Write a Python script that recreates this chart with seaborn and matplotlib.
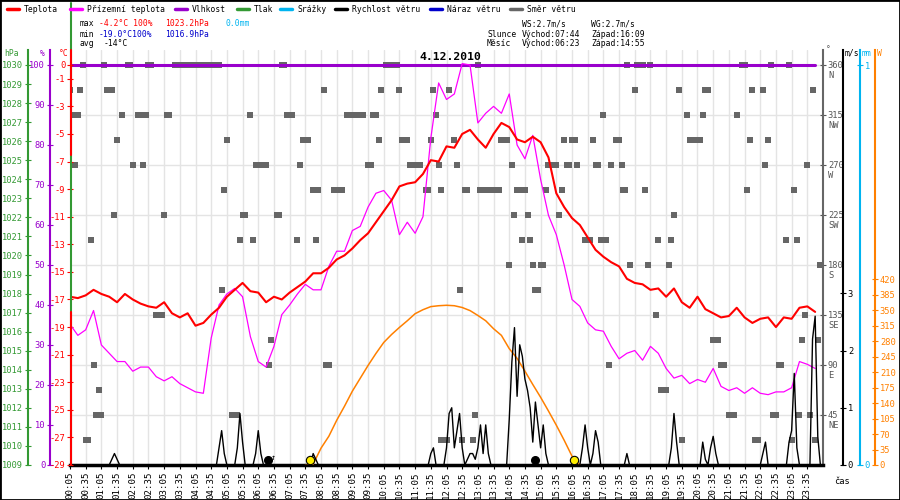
import pandas as pd
import matplotlib
matplotlib.use("Agg")
import matplotlib.pyplot as plt
import matplotlib.dates as mdates
from matplotlib.lines import Line2D
from matplotlib.patches import Rectangle
import seaborn as sns

# ---------------------------------------------------------------- data
DAY = "2010-12-04"

# 15-minute readings starting 00:05
temperature = [
    -16.8, -16.9, -16.7, -16.3, -16.6, -16.8, -17.2, -16.6, -17.0, -17.3,
    -17.5, -17.6, -17.2, -18.0, -18.3, -18.0, -18.9, -18.7, -18.1, -17.6,
    -16.8, -16.3, -15.8, -16.4, -16.5, -17.2, -16.8, -17.0, -16.5, -16.1,
    -15.7, -15.1, -15.1, -14.7, -14.1, -13.8, -13.3, -12.7, -12.2, -11.4,
    -10.6, -9.8, -8.8, -8.6, -8.5, -7.9, -6.9, -7.0,
    -5.9, -6.0, -5.0, -4.7, -5.4, -6.0, -5.0, -4.2, -4.5, -5.4,
    -5.6, -5.2, -5.6, -6.7, -9.3, -10.3, -11.1, -11.6, -12.5, -13.4,
    -13.9, -14.3, -14.6, -15.5, -15.8, -15.9, -16.3, -16.2, -16.8, -16.2,
    -17.2, -17.6, -16.8, -17.7, -18.0, -18.3, -18.2, -17.6, -18.3, -18.7,
    -18.4, -18.3, -19.0, -18.3, -18.4, -17.6, -17.5, -17.9,
]
ground_temperature = [
    -18.8, -19.6, -19.2, -17.8, -20.3, -20.9, -21.5, -21.5, -22.2, -21.9,
    -21.9, -22.6, -22.9, -22.6, -23.1, -23.4, -23.7, -23.8, -19.8, -17.4,
    -16.6, -16.2, -16.8, -19.7, -21.5, -21.9, -20.4, -18.1, -17.4, -16.6,
    -15.9, -16.3, -16.3, -14.6, -13.5, -13.5, -12.0, -11.7, -10.3, -9.3,
    -9.1, -9.8, -12.3, -11.4, -12.2, -11.0, -5.3, -1.3,
    -2.5, -2.1, 0.1, 0.0, -4.2, -3.5, -3.0, -3.5, -2.1, -5.8,
    -6.8, -5.1, -8.3, -10.9, -12.3, -14.5, -17.0, -17.5, -18.7, -19.2,
    -19.3, -20.4, -21.3, -20.9, -20.7, -21.4, -20.4, -20.9, -22.0, -22.7,
    -22.5, -23.1, -22.8, -23.0, -22.0, -23.3, -23.6, -23.4, -23.8, -23.4,
    -23.8, -23.9, -23.7, -23.7, -23.4, -21.5, -21.7, -22.0,
]
humidity = [
    100, 100, 100, 100, 100, 100, 100, 100, 100, 100, 100, 100,
    100, 100, 100, 100, 100, 100, 100, 100, 100, 100, 100, 100,
    100, 100, 100, 100, 100, 100, 100, 100, 100, 100, 100, 100,
    100, 100, 100, 100, 100, 100, 100, 100, 100, 100, 100, 100,
    100, 100, 100, 100, 100, 100, 100, 100, 100, 100, 100, 100,
    100, 100, 100, 100, 100, 100, 100, 100, 100, 100, 100, 100,
    100, 100, 100, 100, 100, 100, 100, 100, 100, 100, 100, 100,
    100, 100, 100, 100, 100, 100, 100, 100, 100, 100, 100, 100,
]
# solar radiation (W), 15-minute readings starting 07:35
solar_start = "07:35"
solar_radiation = [
    0, 2, 38, 65, 101, 133, 167, 196, 225, 252,
    277, 295, 311, 326, 342, 351, 358, 360, 361, 360,
    356, 349, 338, 326, 308, 293, 263, 241, 212, 182,
    153, 122, 90, 56, 20, 0,
]
# wind speed (m/s), 5-minute readings starting 00:05 (one row = 2 hours)
wind_speed = [
    0, 0, 0, 0, 0, 0, 0, 0, 0, 0, 0, 0, 0, 0, 0, 0, 0.1, 0.2, 0.1, 0, 0, 0, 0, 0,
    0, 0, 0, 0, 0, 0, 0, 0, 0, 0, 0, 0, 0, 0, 0, 0, 0, 0, 0, 0, 0, 0, 0, 0,
    0, 0, 0, 0, 0, 0, 0, 0, 0, 0.3, 0.6, 0.2, 0, 0, 0, 0, 0.3, 0.9, 0.4, 0, 0, 0, 0, 0.2,
    0.6, 0.2, 0, 0, 0, 0, 0, 0, 0, 0, 0, 0, 0, 0, 0, 0, 0, 0, 0, 0, 0, 0.2, 0.1, 0,
    0, 0, 0, 0, 0, 0, 0, 0, 0, 0, 0, 0, 0, 0, 0, 0, 0, 0, 0, 0, 0, 0, 0, 0,
    0, 0, 0, 0, 0, 0, 0, 0, 0, 0, 0, 0, 0, 0, 0, 0, 0, 0, 0.2, 0.3, 0, 0, 0, 0,
    0.3, 0.9, 1.0, 0.3, 0.6, 0.9, 0.3, 0, 0.1, 0.2, 0.2, 0.1, 0.3, 0.7, 0.2, 0.7, 0.2, 0, 0, 0, 0, 0, 0, 0,
    0.8, 1.8, 2.4, 1.2, 2.1, 1.9, 1.5, 1.3, 1.0, 0.4, 1.1, 0.7, 0.3, 0.7, 0.2, 0, 0, 0, 0, 0, 0, 0, 0, 0,
    0, 0, 0, 0, 0.3, 0.7, 0.3, 0, 0.2, 0.6, 0.4, 0, 0, 0, 0, 0, 0, 0, 0, 0, 0, 0.2, 0, 0,
    0, 0, 0, 0, 0, 0, 0, 0, 0, 0, 0, 0, 0, 0, 0.3, 0.9, 0.4, 0, 0, 0, 0, 0, 0, 0,
    0, 0, 0.4, 0.1, 0, 0.3, 0.5, 0.2, 0, 0, 0, 0, 0, 0, 0, 0, 0, 0, 0, 0, 0, 0, 0, 0,
    0, 0.2, 0.4, 0, 0, 0, 0, 0, 0, 0, 0, 0.4, 0.6, 1.6, 0.3, 0, 0, 0, 0, 0, 2.2, 2.6, 0.5, 0,
]

# wind direction observations: minutes after midnight per compass direction
wd_360 = [30, 70, 115, 120, 155, 160, 205, 210, 215, 220, 225, 230, 235, 240, 245,
          250, 255, 260, 265, 270, 275, 280, 285, 290, 410, 415, 610, 615, 620, 625,
          630, 785, 1070, 1090, 1095, 1100, 1115, 1290, 1295, 1345, 1380]
wd_337 = [5, 25, 75, 80, 85, 490, 600, 635, 700, 730, 1085, 1170, 1220, 1225,
          1310, 1330, 1425]
wd_315 = [10, 20, 105, 135, 140, 150, 190, 195, 350, 420, 425, 430, 535, 540, 545,
          550, 555, 560, 565, 585, 590, 705, 1025, 1185, 1215, 1280]
wd_292 = [95, 305, 450, 455, 460, 595, 640, 645, 650, 695, 740, 830, 835, 840, 950,
          965, 970, 1005, 1050, 1055, 1190, 1195, 1200, 1205, 1210, 1305, 1340]
wd_270 = [15, 125, 145, 360, 365, 370, 375, 380, 445, 575, 580, 655, 660, 665, 670,
          675, 710, 745, 850, 920, 925, 930, 935, 955, 960, 975, 1010, 1015, 1040,
          1060, 1335, 1415]
wd_247 = [300, 470, 475, 480, 510, 515, 520, 525, 685, 690, 715, 760, 765, 790, 795,
          800, 805, 810, 815, 820, 825, 860, 865, 875, 915, 945, 1062, 1067, 1105,
          1300, 1390]
wd_225 = [90, 185, 335, 340, 400, 405, 855, 880, 940, 1160]
wd_202 = [45, 330, 355, 440, 475, 870, 885, 990, 995, 1000, 1020, 1030, 1130, 1155,
          1375, 1395]
wd_180 = [845, 890, 905, 910, 1075, 1110, 1150, 1440]
wd_157 = [295, 750, 895, 900]
wd_135 = [170, 175, 180, 1125, 1410]
wd_112 = [390, 1235, 1240, 1245, 1405, 1435]
wd_90 = [50, 385, 495, 500, 1035, 1250, 1255, 1360, 1365]
wd_67 = [60, 1135, 1140, 1145]
wd_45 = [55, 65, 315, 320, 325, 780, 1265, 1270, 1275, 1350, 1355, 1400, 1420]
wd_22 = [35, 40, 715, 720, 725, 755, 775, 1175, 1315, 1320, 1385, 1430]

sunrise, sunset = "07:44", "16:09"
moonrise, moonset = "06:23", "14:55"

legend_labels = ["Teplota", "Přízemní teplota", "Vlhkost", "Tlak", "Srážky",
                 "Rychlost větru", "Náraz větru", "Směr větru"]
temp_ticks = [0, -1, -3, -5, -7, -9, -11, -13, -15, -17, -19, -21, -23, -25, -27, -29]
hum_ticks = [0, 10, 20, 30, 40, 50, 60, 70, 80, 90, 100]
hpa_ticks = list(range(1009, 1031))
dir_ticks = [45, 90, 135, 180, 225, 270, 315, 360]
dir_names = ["NE", "E", "SE", "S", "SW", "W", "NW", "N"]
ws_ticks = [0, 1, 2, 3]
mm_ticks = [0, 1]
w_ticks = [0, 35, 70, 105, 140, 175, 210, 245, 280, 315, 350, 385, 420]

# ---------------------------------------------------------------- frames
t15 = pd.date_range(f"{DAY} 00:05", periods=len(temperature), freq="15min")
df15 = pd.DataFrame({"time": t15, "temp": temperature,
                     "ground": ground_temperature, "hum": humidity})
df_sun = pd.DataFrame({"time": pd.date_range(f"{DAY} {solar_start}",
                                             periods=len(solar_radiation), freq="15min"),
                       "W": solar_radiation})
df_ws = pd.DataFrame({"time": pd.date_range(f"{DAY} 00:05", periods=len(wind_speed),
                                            freq="5min"),
                      "ws": wind_speed})
dir_groups = [(360, wd_360), (337.5, wd_337), (315, wd_315), (292.5, wd_292),
              (270, wd_270), (247.5, wd_247), (225, wd_225), (202.5, wd_202),
              (180, wd_180), (157.5, wd_157), (135, wd_135), (112.5, wd_112),
              (90, wd_90), (67.5, wd_67), (45, wd_45), (22.5, wd_22)]
rows = []
for deg, mins in dir_groups:
    for m in mins:
        rows.append({"time": pd.Timestamp(DAY) + pd.Timedelta(minutes=m), "deg": deg})
df_dir = pd.DataFrame(rows)

def ts(hhmm):
    return pd.Timestamp(f"{DAY} {hhmm}")

# ---------------------------------------------------------------- style
sns.set_theme(style="white")
plt.rcParams["font.family"] = ["DejaVu Sans Mono", "DejaVu Sans"]
plt.rcParams["axes.unicode_minus"] = False
FS = 5.8
FSY = 6.3
FSX = 6.6

RED, MAG, PUR, GRN = "#ff0000", "#ff00ff", "#9900cc", "#339933"
CYN, BLK, BLU, GRY, ORG = "#00b4f0", "#000000", "#0000cc", "#666666", "#ff8000"

W_PX, H_PX = 900, 500
L, R, T, B = 70, 823, 50, 465
def fx(px):
    return px / W_PX
def fy(py):
    return 1 - py / H_PX

fig = plt.figure(figsize=(9, 5), dpi=100)
fig.patch.set_facecolor("white")
rect = [fx(L), fy(B), fx(R) - fx(L), fy(T) - fy(B)]
plot_w = R - L

x0, x1 = ts("00:05"), ts("00:05") + pd.Timedelta(hours=24)

def new_axes(bg=False):
    a = fig.add_axes(rect)
    a.set_xlim(x0, x1)
    if not bg:
        a.patch.set_visible(False)
        a.tick_params(axis="x", bottom=False, labelbottom=False)
    for s in a.spines.values():
        s.set_visible(False)
    a.set_xlabel("")
    a.set_ylabel("")
    return a

def tidy(a):
    a.set_xlabel("")
    a.set_ylabel("")
    a.set_xlim(x0, x1)

# background axes: grid, wind direction, time axis
ax_dir = new_axes(bg=True)
ax_dir.set_facecolor("white")
ax_dir.set_ylim(0, 360 + 15 * 360 / 400)
ax_dir.set_yticks(dir_ticks)
ax_dir.yaxis.tick_right()
ax_dir.set_xticks(pd.date_range(f"{DAY} 00:05", periods=48, freq="30min"))
ax_dir.xaxis.set_major_formatter(mdates.DateFormatter("%H:%M"))
ax_dir.grid(True, color="#e4e4e4", linewidth=1)
ax_dir.set_axisbelow(True)
ax_dir.spines["right"].set_visible(True)
ax_dir.spines["right"].set_color(GRY)
ax_dir.spines["right"].set_linewidth(1.5)
ax_dir.spines["bottom"].set_visible(True)
ax_dir.spines["bottom"].set_color(BLK)
ax_dir.spines["bottom"].set_linewidth(2.5)
ax_dir.spines["bottom"].set_zorder(5)
ax_dir.tick_params(axis="x", bottom=True, direction="out", length=3, width=0.8,
                   labelsize=FSX, labelrotation=90, pad=2, colors=BLK)
ax_dir.tick_params(axis="y", right=True, left=False, direction="inout", length=5,
                   width=0.8, labelsize=FSY, pad=1, colors="#555555")
sns.scatterplot(data=df_dir, x="time", y="deg", ax=ax_dir, marker="s", s=13,
                color=GRY, linewidth=0, legend=False)
for deg, name in zip(dir_ticks, dir_names):
    ax_dir.annotate(name, xy=(1, deg), xycoords=("axes fraction", "data"),
                    xytext=(5, -10), textcoords="offset pixels",
                    ha="left", va="center", fontsize=FSY, color="#555555")
tidy(ax_dir)

# pressure axis (no plotted data)
ax_hpa = new_axes()
ax_hpa.set_ylim(1009, 1030 + 15 / (400 / 21))
ax_hpa.spines["left"].set_visible(True)
ax_hpa.spines["left"].set_position(("axes", (28 - L) / plot_w))
ax_hpa.spines["left"].set_color(GRN)
ax_hpa.spines["left"].set_linewidth(1.5)
ax_hpa.set_yticks(hpa_ticks)
ax_hpa.tick_params(axis="y", left=True, direction="inout", length=5, width=0.8,
                   labelsize=FSY, pad=1, colors=GRN)

# humidity axis
ax_hum = new_axes()
ax_hum.set_ylim(0, 100 + 15 / 4)
ax_hum.spines["left"].set_visible(True)
ax_hum.spines["left"].set_position(("axes", (50 - L) / plot_w))
ax_hum.spines["left"].set_color(PUR)
ax_hum.spines["left"].set_linewidth(1.5)
ax_hum.set_yticks(hum_ticks)
ax_hum.tick_params(axis="y", left=True, direction="inout", length=5, width=0.8,
                   labelsize=FSY, pad=1, colors=PUR)

# temperature axis
ax = new_axes()
ax.set_ylim(-29, 15 / (400 / 29))
ax.set_yticks(temp_ticks)
ax.tick_params(axis="y", left=True, direction="inout", length=5, width=0.8,
               labelsize=FSY, pad=1, colors=RED)
sns.lineplot(data=df15, x="time", y="ground", ax=ax, color=MAG, linewidth=0.9,
             estimator=None, legend=False)
sns.lineplot(data=df15, x="time", y="temp", ax=ax, color=RED, linewidth=1.5,
             estimator=None, legend=False)
tidy(ax)

sns.lineplot(data=df15, x="time", y="hum", ax=ax_hum, color=PUR, linewidth=2.2,
             estimator=None, legend=False)
tidy(ax_hum)

# solar radiation axis
ax_w = new_axes()
ax_w.set_ylim(0, 938)
ax_w.spines["right"].set_visible(True)
ax_w.spines["right"].set_position(("axes", (875 - L) / plot_w))
ax_w.spines["right"].set_color(ORG)
ax_w.spines["right"].set_linewidth(1.5)
ax_w.yaxis.tick_right()
ax_w.set_yticks(w_ticks)
ax_w.tick_params(axis="y", right=True, left=False, direction="inout", length=5,
                 width=0.8, labelsize=FSY, pad=1, colors=ORG)
sns.lineplot(data=df_sun, x="time", y="W", ax=ax_w, color=ORG, linewidth=1.1,
             estimator=None, legend=False)
tidy(ax_w)

# precipitation axis (scale only)
ax_mm = new_axes()
ax_mm.set_ylim(0, 1 + 15 / 400)
ax_mm.spines["right"].set_visible(True)
ax_mm.spines["right"].set_position(("axes", (860 - L) / plot_w))
ax_mm.spines["right"].set_color(CYN)
ax_mm.spines["right"].set_linewidth(1.5)
ax_mm.yaxis.tick_right()
ax_mm.set_yticks(mm_ticks)
ax_mm.tick_params(axis="y", right=True, left=False, direction="inout", length=5,
                  width=0.8, labelsize=FSY, pad=1, colors=CYN)

# wind speed axis
ax_ws = new_axes()
ax_ws.set_ylim(0, 7.25)
ax_ws.spines["right"].set_visible(True)
ax_ws.spines["right"].set_position(("axes", (843 - L) / plot_w))
ax_ws.spines["right"].set_color(BLK)
ax_ws.spines["right"].set_linewidth(1.5)
ax_ws.yaxis.tick_right()
ax_ws.set_yticks(ws_ticks)
ax_ws.tick_params(axis="y", right=True, left=False, direction="inout", length=5,
                  width=0.8, labelsize=FSY, pad=1, colors=BLK)
sns.lineplot(data=df_ws, x="time", y="ws", ax=ax_ws, color=BLK, linewidth=1.0,
             estimator=None, legend=False)
ax_ws.plot([ts(sunrise), ts(sunset)], [0.09, 0.09], linestyle="none", marker="o",
           markersize=6, markerfacecolor="#ffee00", markeredgecolor=BLK,
           markeredgewidth=0.8, clip_on=False, zorder=6)
ax_ws.plot([ts(moonrise), ts(moonset)], [0.09, 0.09], linestyle="none", marker="o",
           markersize=5.5, markerfacecolor=BLK, markeredgecolor=BLK, clip_on=False,
           zorder=6)
ax_ws.annotate("↑", xy=(ts(moonrise), 0.09), xytext=(6, 2), textcoords="offset pixels",
               ha="center", va="center", fontsize=6, color=BLK)
tidy(ax_ws)

# ---------------------------------------------------------------- decorations
# left axis line colours at the plot edge
fig.add_artist(Line2D([fx(70.5), fx(70.5)], [fy(3), fy(B)], transform=fig.transFigure,
                      color=GRN, linewidth=1.5))
for a0, a1 in [(T, 155), (312, B)]:
    fig.add_artist(Line2D([fx(70.5), fx(70.5)], [fy(a0), fy(a1)],
                          transform=fig.transFigure, color=RED, linewidth=1.5))

# legend row
legend_colors = [RED, MAG, PUR, GRN, CYN, BLK, BLU, GRY]
legend_x = [7, 70, 175, 237, 280, 335, 430, 510]
for lab, col, xx in zip(legend_labels, legend_colors, legend_x):
    fig.add_artist(Line2D([fx(xx), fx(xx + 12)], [fy(9), fy(9)],
                          transform=fig.transFigure, color=col, linewidth=2.5))
    fig.text(fx(xx + 17), fy(9), lab, fontsize=FS, color=BLK, ha="left", va="center")

# statistics block
def put(x, y, s, c=BLK, size=FS):
    fig.text(fx(x), fy(y), s, fontsize=size, color=c, ha="left", va="center")

put(80, 24, "max")
put(99, 24, "-4.2°C 100%", RED)
put(165, 24, "1023.2hPa", RED)
put(225, 24, "0.0mm", CYN)
put(80, 34, "min")
put(99, 34, "-19.0°C100%", BLU)
put(165, 34, "1016.9hPa", BLU)
put(80, 44, "avg")
put(104, 44, "-14°C")
put(522, 24, "WS:2.7m/s")
put(591, 24, "WG:2.7m/s")
put(487, 34, "Slunce")
put(522, 34, f"Východ:{sunrise}")
put(591, 34, f"Západ:{sunset}")
put(487, 44, "Měsíc")
put(522, 44, f"Východ:{moonrise}")
put(591, 44, f"Západ:{moonset}")

# axis headers
put(4, 53, "hPa", GRN)
put(40, 53, "%", PUR)
put(59, 53, "°C", RED)
put(826, 50, "°", "#555555")
put(845, 53, "m/s", BLK)
put(862, 53, "mm", CYN)
put(877, 53, "W", ORG)
put(834, 481, "čas", BLK, FSY)

fig.text(fx(450), fy(57), "4.12.2010", fontsize=8.2, fontweight="bold",
         ha="center", va="center", color=BLK)

fig.add_artist(Rectangle((0, 0), 1, 1, transform=fig.transFigure, fill=False,
                         edgecolor=BLK, linewidth=2))

fig.savefig("out.png", dpi=100)
